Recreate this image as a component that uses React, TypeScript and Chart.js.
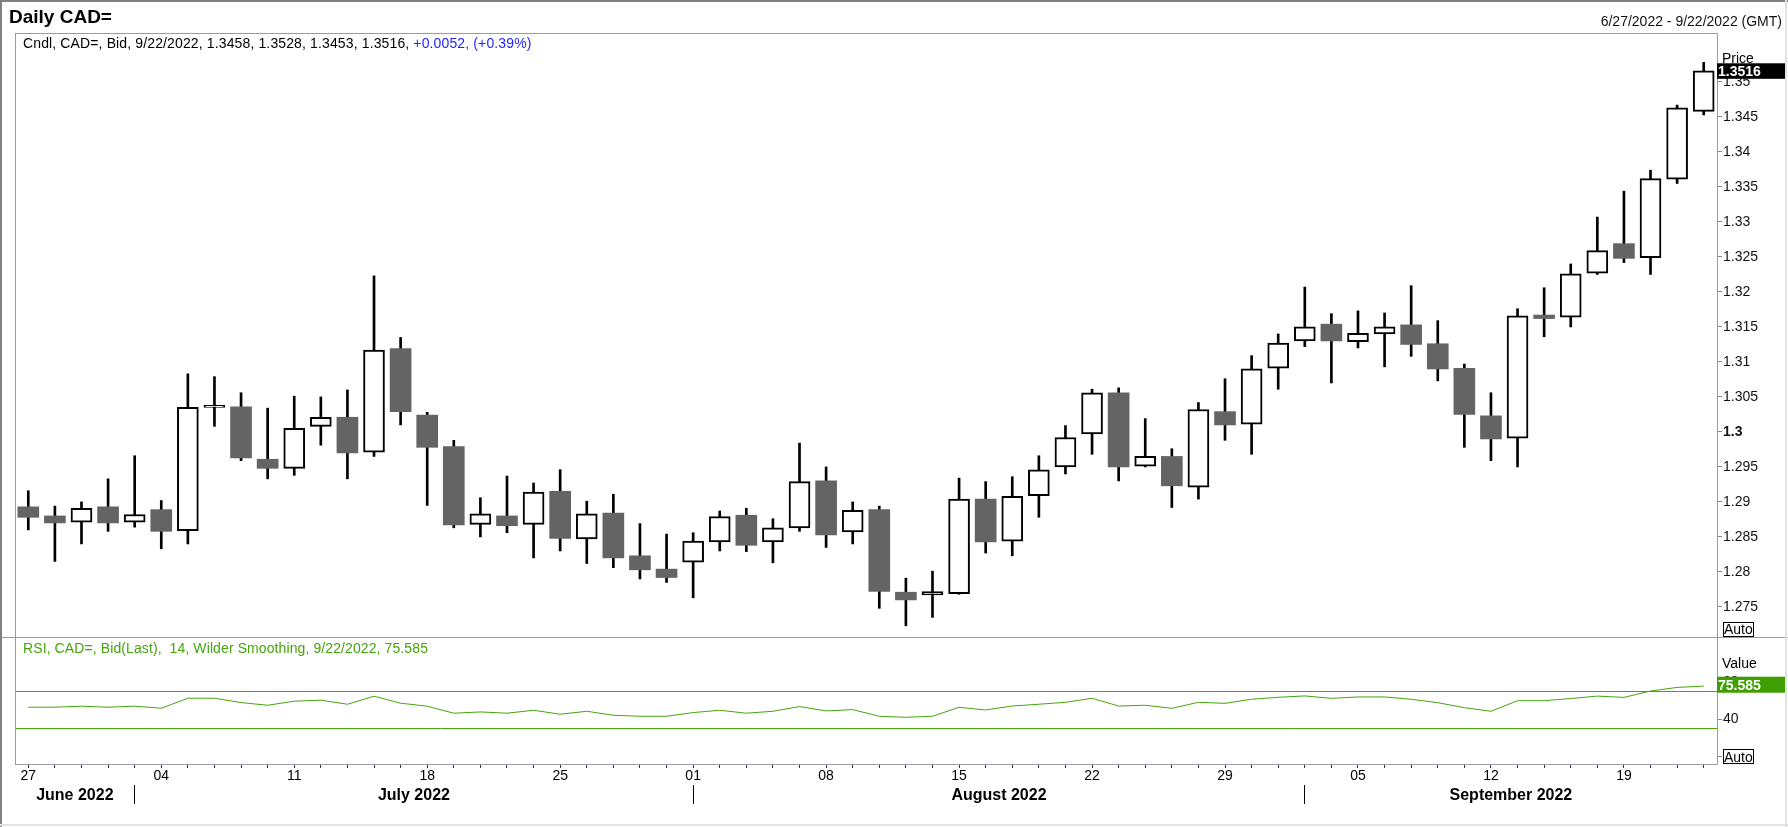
import React, { useEffect, useRef } from 'react';
import { Chart, registerables } from 'chart.js';

Chart.register(...registerables);

// ---------------- data ----------------
const dates = [
  '2022-06-27', '2022-06-28', '2022-06-29', '2022-06-30', '2022-07-01',
  '2022-07-04', '2022-07-05', '2022-07-06', '2022-07-07', '2022-07-08',
  '2022-07-11', '2022-07-12', '2022-07-13', '2022-07-14', '2022-07-15',
  '2022-07-18', '2022-07-19', '2022-07-20', '2022-07-21', '2022-07-22',
  '2022-07-25', '2022-07-26', '2022-07-27', '2022-07-28', '2022-07-29',
  '2022-08-01', '2022-08-02', '2022-08-03', '2022-08-04', '2022-08-05',
  '2022-08-08', '2022-08-09', '2022-08-10', '2022-08-11', '2022-08-12',
  '2022-08-15', '2022-08-16', '2022-08-17', '2022-08-18', '2022-08-19',
  '2022-08-22', '2022-08-23', '2022-08-24', '2022-08-25', '2022-08-26',
  '2022-08-29', '2022-08-30', '2022-08-31', '2022-09-01', '2022-09-02',
  '2022-09-05', '2022-09-06', '2022-09-07', '2022-09-08', '2022-09-09',
  '2022-09-12', '2022-09-13', '2022-09-14', '2022-09-15', '2022-09-16',
  '2022-09-19', '2022-09-20', '2022-09-21', '2022-09-22',
];

const opens = [
  1.2893, 1.2880, 1.2871, 1.2893, 1.2871, 1.2889, 1.2859, 1.3035, 1.3036, 1.2961,
  1.2948, 1.3008, 1.3021, 1.2971, 1.3119, 1.3024, 1.2979, 1.2868, 1.2880, 1.2868,
  1.2915, 1.2847, 1.2884, 1.2823, 1.2804, 1.2814, 1.2843, 1.2881, 1.2843, 1.2863,
  1.2930, 1.2857, 1.2889, 1.2771, 1.2767, 1.2769, 1.2904, 1.2844, 1.2909, 1.2950,
  1.2997, 1.3056, 1.2951, 1.2965, 1.2921, 1.3029, 1.3011, 1.3091, 1.3130, 1.3154,
  1.3129, 1.3140, 1.3153, 1.3126, 1.3091, 1.3023, 1.2991, 1.3167, 1.3164, 1.3227,
  1.3269, 1.3249, 1.3361, 1.3458,
];

const highs = [
  1.2916, 1.2894, 1.2900, 1.2933, 1.2966, 1.2902, 1.3083, 1.3079, 1.3056, 1.3034,
  1.3051, 1.3050, 1.3060, 1.3223, 1.3135, 1.3028, 1.2988, 1.2906, 1.2937, 1.2927,
  1.2946, 1.2901, 1.2911, 1.2869, 1.2854, 1.2856, 1.2887, 1.2891, 1.2876, 1.2984,
  1.2950, 1.2900, 1.2894, 1.2791, 1.2801, 1.2934, 1.2929, 1.2936, 1.2966, 1.3009,
  1.3061, 1.3063, 1.3019, 1.2976, 1.3042, 1.3076, 1.3109, 1.3140, 1.3207, 1.3169,
  1.3173, 1.3170, 1.3209, 1.3159, 1.3097, 1.3056, 1.3176, 1.3206, 1.3240, 1.3307,
  1.3344, 1.3374, 1.3467, 1.3528,
];

const lows = [
  1.2860, 1.2815, 1.2840, 1.2858, 1.2864, 1.2833, 1.2840, 1.3008, 1.2959, 1.2933,
  1.2938, 1.2981, 1.2933, 1.2965, 1.3010, 1.2895, 1.2863, 1.2850, 1.2856, 1.2820,
  1.2830, 1.2812, 1.2806, 1.2790, 1.2785, 1.2763, 1.2830, 1.2829, 1.2813, 1.2858,
  1.2835, 1.2840, 1.2748, 1.2723, 1.2735, 1.2768, 1.2827, 1.2823, 1.2878, 1.2940,
  1.2968, 1.2930, 1.2950, 1.2892, 1.2904, 1.2988, 1.2968, 1.3061, 1.3122, 1.3070,
  1.3120, 1.3093, 1.3108, 1.3073, 1.2978, 1.2959, 1.2950, 1.3136, 1.3150, 1.3225,
  1.3242, 1.3225, 1.3355, 1.3453,
];

const closes = [
  1.2878, 1.2870, 1.2891, 1.2870, 1.2882, 1.2858, 1.3035, 1.3038, 1.2963, 1.2948,
  1.3005, 1.3021, 1.2970, 1.3117, 1.3029, 1.2978, 1.2867, 1.2883, 1.2866, 1.2914,
  1.2848, 1.2883, 1.2820, 1.2803, 1.2792, 1.2844, 1.2879, 1.2838, 1.2863, 1.2929,
  1.2853, 1.2888, 1.2772, 1.2760, 1.2772, 1.2904, 1.2843, 1.2908, 1.2946, 1.2992,
  1.3056, 1.2950, 1.2965, 1.2923, 1.3032, 1.3010, 1.3090, 1.3127, 1.3150, 1.3130,
  1.3141, 1.3150, 1.3125, 1.3090, 1.3025, 1.2990, 1.3166, 1.3162, 1.3226, 1.3259,
  1.3248, 1.3362, 1.3463, 1.3516,
];

const rsi = [
  52.8, 52.8, 53.9, 52.8, 53.9, 51.7, 62.5, 62.5, 57.8, 54.9,
  59.3, 60.4, 56.0, 64.7, 57.1, 53.9, 46.3, 47.7, 46.3, 49.5,
  45.2, 48.4, 44.1, 43.0, 43.0, 47.0, 49.5, 46.3, 48.4, 53.5,
  48.8, 50.2, 43.0, 41.9, 43.0, 52.7, 49.8, 54.1, 56.0, 58.1,
  62.4, 54.1, 54.9, 51.6, 58.1, 57.0, 61.4, 63.5, 65.0, 62.4,
  63.9, 63.9, 61.4, 57.7, 52.3, 48.4, 59.8, 59.8, 62.2, 64.8,
  63.4, 70.3, 74.2, 75.585,
];

const rsiLevels = [70, 30];
const priceTicks = [1.275, 1.28, 1.285, 1.29, 1.295, 1.3, 1.305, 1.31, 1.315, 1.32, 1.325, 1.33, 1.335, 1.34, 1.345, 1.35];
const boldPriceTick = 1.3;
const rsiTicks = [0, 40, 80];
const priceRange = [1.2707, 1.357];
const rsiRange = [-8.6, 128.7];
const monthNames = ['January', 'February', 'March', 'April', 'May', 'June', 'July', 'August', 'September', 'October', 'November', 'December'];

// ---------------- layout / style ----------------
const W = 1788;
const H = 827;
const PLOT_LEFT = 15;
const PLOT_TOP = 33;
const PLOT_RIGHT = 1717;
const PLOT_BOTTOM = 764;
const PANE_SPLIT = 637;
const FONT = '"Liberation Sans", Arial, Helvetica, sans-serif';
const GREEN = '#44a50c';
const GREEN_BOX = '#3f9f00';
const PANE_BORDER = '#9a9aab';
const DOWN = '#646464';
const BLUE = '#1f1fff';

const parsed = dates.map((s) => {
  const [y, m, d] = s.split('-').map(Number);
  return { y, m, d, wd: new Date(Date.UTC(y, m - 1, d)).getUTCDay() };
});
const dayLabels = parsed.map((p) => (p.wd === 1 ? String(p.d).padStart(2, '0') : ''));
const monthStarts = parsed
  .map((p, i) => (i === 0 || p.m !== parsed[i - 1].m ? i : -1))
  .filter((i) => i >= 0);

const overlayPlugin = {
  id: 'overlay',
  beforeDatasetsDraw(chart: any) {
    const { ctx, chartArea } = chart;
    const y2 = chart.scales.y2;
    ctx.save();
    ctx.strokeStyle = GREEN;
    ctx.lineWidth = 1;
    for (const lv of rsiLevels) {
      const py = Math.round(y2.getPixelForValue(lv)) + 0.5;
      ctx.beginPath();
      ctx.moveTo(chartArea.left, py);
      ctx.lineTo(chartArea.right, py);
      ctx.stroke();
    }
    ctx.restore();
  },
  afterDraw(chart: any) {
    const { ctx, chartArea } = chart;
    const xs = chart.scales.x;
    const ys = chart.scales.y;
    const y2 = chart.scales.y2;
    ctx.save();
    // pane borders
    ctx.strokeStyle = PANE_BORDER;
    ctx.lineWidth = 1;
    ctx.strokeRect(chartArea.left + 0.5, chartArea.top + 0.5, chartArea.right - chartArea.left, chartArea.bottom - chartArea.top);
    const sy = Math.round(ys.bottom) + 0.5;
    ctx.beginPath();
    ctx.moveTo(0, sy);
    ctx.lineTo(chart.width, sy);
    ctx.stroke();

    // month separators and labels
    ctx.fillStyle = '#000';
    ctx.strokeStyle = '#000';
    ctx.font = `bold 16px ${FONT}`;
    ctx.textAlign = 'center';
    ctx.textBaseline = 'alphabetic';
    monthStarts.forEach((idx, k) => {
      const start = idx === 0 ? chartArea.left : xs.getPixelForValue(idx);
      const nextIdx = monthStarts[k + 1];
      const end = nextIdx === undefined ? chartArea.right : xs.getPixelForValue(nextIdx);
      if (idx !== 0) {
        const sx = Math.floor(start) + 0.5;
        ctx.beginPath();
        ctx.moveTo(sx, 785);
        ctx.lineTo(sx, 804);
        ctx.stroke();
      }
      const p = parsed[idx];
      ctx.fillText(`${monthNames[p.m - 1]} ${p.y}`, (start + end) / 2, 800);
    });

    // last price box
    const lastClose = closes[closes.length - 1];
    const cy = ys.getPixelForValue(lastClose);
    ctx.fillStyle = '#000';
    ctx.fillRect(chartArea.right, cy - 7.5, 68, 15.5);
    ctx.fillStyle = '#fff';
    ctx.font = `bold 14px ${FONT}`;
    ctx.textAlign = 'left';
    ctx.fillText(lastClose.toFixed(4), chartArea.right + 1, cy + 5);

    // last RSI box
    const lastRsi = rsi[rsi.length - 1];
    const ry = y2.getPixelForValue(lastRsi);
    ctx.fillStyle = GREEN_BOX;
    ctx.fillRect(chartArea.right, ry - 9.4, 69, 16);
    ctx.fillStyle = '#fff';
    ctx.fillText(lastRsi.toFixed(3), chartArea.right + 1, ry + 4);
    ctx.restore();
  },
};

function Txt(props: { x: number; base: number; size: number; bold?: boolean; color?: string; align?: 'left' | 'right'; spacing?: number; children: any }) {
  const { x, base, size, bold, color = '#000', align = 'left', spacing = 0, children } = props;
  const style: any = {
    position: 'absolute',
    top: base - (size / 2 + 0.3465 * size),
    fontSize: size,
    lineHeight: `${size}px`,
    fontWeight: bold ? 700 : 400,
    color,
    whiteSpace: 'pre',
    fontFamily: FONT,
    letterSpacing: spacing,
  };
  if (align === 'right') style.right = W - x;
  else style.left = x;
  return <div style={style}>{children}</div>;
}

function AutoBox(props: { top: number; base: number }) {
  return (
    <>
      <div style={{ position: 'absolute', left: 1723, top: props.top, width: 31, height: 15, border: '1px solid #000', boxSizing: 'border-box', background: '#fff' }} />
      <Txt x={1724} base={props.base} size={14}>Auto</Txt>
    </>
  );
}

export default function App() {
  const ref = useRef<HTMLCanvasElement>(null);

  useEffect(() => {
    document.body.style.margin = '0';
    Chart.defaults.font.family = FONT;
    const canvas = ref.current;
    if (!canvas) return;
    const up = closes.map((c, i) => c >= opens[i]);
    const chart = new Chart(canvas, {
      type: 'bar',
      data: {
        labels: dates,
        datasets: [
          {
            type: 'line',
            label: 'RSI',
            data: rsi,
            yAxisID: 'y2',
            borderColor: GREEN,
            borderWidth: 1,
            pointRadius: 0,
            tension: 0,
            fill: false,
            order: 0,
          } as any,
          {
            type: 'bar',
            label: 'Body',
            data: opens.map((o, i) => [o, closes[i]]),
            yAxisID: 'y',
            backgroundColor: up.map((u) => (u ? '#ffffff' : DOWN)),
            borderColor: up.map((u) => (u ? '#000000' : DOWN)),
            borderWidth: up.map((u) => (u ? 2 : 0)),
            borderSkipped: false,
            barThickness: 21,
            grouped: false,
            order: 1,
          } as any,
          {
            type: 'bar',
            label: 'Wick',
            data: lows.map((l, i) => [l, highs[i]]),
            yAxisID: 'y',
            backgroundColor: '#000000',
            borderWidth: 0,
            barThickness: 2,
            grouped: false,
            order: 2,
          } as any,
        ],
      },
      options: {
        responsive: false,
        animation: false,
        events: [],
        layout: { padding: { left: PLOT_LEFT, top: PLOT_TOP, right: 0, bottom: 0 } },
        plugins: {
          legend: { display: false },
          tooltip: { enabled: false },
          title: { display: false },
        },
        scales: {
          x: {
            type: 'category',
            offset: true,
            grid: { display: true, drawOnChartArea: false, drawTicks: true, tickLength: 4, offset: false, color: '#333' },
            border: { display: false },
            ticks: {
              autoSkip: false,
              maxRotation: 0,
              minRotation: 0,
              padding: 0,
              color: '#000',
              font: { size: 14 },
              callback: (_v: any, i: number) => dayLabels[i],
            },
            afterFit: (s: any) => {
              s.height = H - PLOT_BOTTOM;
            },
          },
          y: {
            type: 'linear',
            position: 'right',
            stack: 'panes',
            stackWeight: PANE_SPLIT - PLOT_TOP,
            weight: 0,
            min: priceRange[0],
            max: priceRange[1],
            grid: { drawOnChartArea: false, tickLength: 5, color: '#8a8a8a' },
            border: { display: false },
            afterBuildTicks: (s: any) => {
              s.ticks = priceTicks.map((v) => ({ value: v }));
            },
            ticks: {
              padding: 1,
              color: '#111',
              font: (c: any) => ({ size: 14, weight: c.tick && Math.abs(c.tick.value - boldPriceTick) < 1e-9 ? 'bold' : 'normal' }),
              callback: (v: any) => String(Number(Number(v).toFixed(3))),
            },
            afterFit: (s: any) => {
              s.width = W - PLOT_RIGHT;
            },
          },
          y2: {
            type: 'linear',
            position: 'right',
            stack: 'panes',
            stackWeight: PLOT_BOTTOM - PANE_SPLIT,
            weight: 1,
            min: rsiRange[0],
            max: rsiRange[1],
            grid: { drawOnChartArea: false, tickLength: 5, color: '#8a8a8a' },
            border: { display: false },
            afterBuildTicks: (s: any) => {
              s.ticks = rsiTicks.map((v) => ({ value: v }));
            },
            ticks: {
              padding: 1,
              color: '#111',
              font: { size: 14 },
              callback: (v: any) => String(v),
            },
            afterFit: (s: any) => {
              s.width = W - PLOT_RIGHT;
            },
          },
        },
      } as any,
      plugins: [overlayPlugin],
    });
    return () => chart.destroy();
  }, []);

  return (
    <div style={{ position: 'relative', width: W, height: H, overflow: 'hidden', background: '#fff', fontFamily: FONT }}>
      <canvas ref={ref} width={W} height={H} style={{ position: 'absolute', left: 0, top: 0, width: W, height: H }} />

      <Txt x={9} base={23.3} size={19} bold>Daily CAD=</Txt>
      <Txt x={1782} base={26} size={14} align="right" color="#111">6/27/2022 - 9/22/2022 (GMT)</Txt>
      <Txt x={23} base={48} size={14} spacing={0.13}>
        Cndl, CAD=, Bid, 9/22/2022, 1.3458, 1.3528, 1.3453, 1.3516, <span style={{ color: BLUE }}>+0.0052, (+0.39%)</span>
      </Txt>
      <Txt x={23} base={653} size={14} color={GREEN} spacing={0.1}>RSI, CAD=, Bid(Last),  14, Wilder Smoothing, 9/22/2022, 75.585</Txt>

      <Txt x={1722} base={63} size={14}>Price</Txt>
      <Txt x={1722} base={668} size={14}>Value</Txt>
      <AutoBox top={622} base={634} />
      <AutoBox top={749} base={761.5} />

      <div style={{ position: 'absolute', left: 0, top: 0, width: W, height: 2, background: '#808080' }} />
      <div style={{ position: 'absolute', left: 0, top: 0, width: 2, height: H, background: '#808080' }} />
      <div style={{ position: 'absolute', left: W - 3, top: 0, width: 2, height: H, background: '#e2e2e2' }} />
      <div style={{ position: 'absolute', left: 0, top: H - 3, width: W, height: 2, background: '#e2e2e2' }} />
    </div>
  );
}
